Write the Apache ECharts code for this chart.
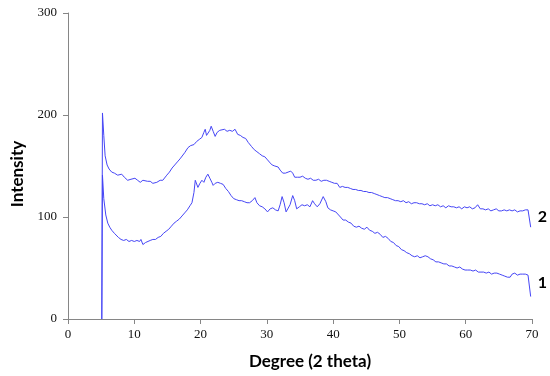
<!DOCTYPE html>
<html>
<head>
<meta charset="utf-8">
<script src="https://cdn.jsdelivr.net/npm/echarts@6/dist/echarts.min.js"></script>
<style>html,body{margin:0;padding:0;background:#fff}#c{width:550px;height:376px}</style>
</head>
<body>
<div id="c"></div>
<script>
var xTicks = [0, 10, 20, 30, 40, 50, 60, 70];
var yTicks = [0, 100, 200, 300];
var seriesNames = ['1', '2'];

var curve1 = [[5.1,0],[5.2,141],[5.4,118],[5.7,102],[6.0,94],[6.3,90],[6.6,87],[7.0,84],[7.3,85],[7.6,80],[8.0,78],[8.4,77],[8.8,78],[9.2,76],[9.6,77],[10.0,76],[10.4,77],[10.8,76],[11.0,78],[11.3,73],[11.7,75],[12.0,76],[12.4,77],[12.8,78],[13.2,78],[13.6,80],[14.0,81],[14.4,84],[14.8,86],[15.2,88],[15.6,91],[16.0,94],[16.4,96],[16.8,98],[17.2,101],[17.6,104],[18.0,107],[18.4,111],[18.7,114],[19.0,124],[19.2,136],[19.4,137],[19.6,129],[19.9,133],[20.2,136],[20.5,134],[20.8,139],[21.1,142],[21.4,138],[21.7,134],[21.9,131],[22.2,133],[22.6,134],[23.0,133],[23.4,132],[23.8,128],[24.2,125],[24.6,121],[25.0,118],[25.4,117],[25.8,116],[26.2,116],[26.6,115],[27.0,114],[27.4,114],[27.8,116],[28.2,119],[28.5,114],[28.9,111],[29.3,110],[29.7,108],[30.1,105],[30.5,108],[30.9,109],[31.3,107],[31.7,106],[32.0,112],[32.3,120],[32.6,114],[32.9,105],[33.2,106],[33.5,112],[33.9,121],[34.2,116],[34.5,108],[34.9,110],[35.3,112],[35.7,111],[36.1,112],[36.5,110],[36.9,116],[37.2,113],[37.6,110],[38.0,113],[38.5,120],[38.9,115],[39.2,109],[39.6,107],[40.0,106],[40.4,105],[40.7,104],[41.1,100],[41.5,97],[41.9,97],[42.3,95],[42.7,94],[43.1,91],[43.5,90],[43.9,91],[44.3,89],[44.7,88],[45.1,90],[45.5,87],[45.9,86],[46.3,84],[46.7,85],[47.1,83],[47.5,80],[47.9,81],[48.3,79],[48.7,76],[49.1,75],[49.5,72],[49.9,71],[50.3,68],[50.7,67],[51.1,65],[51.5,64],[51.9,62],[52.3,61],[52.7,62],[53.1,60],[53.5,61],[53.9,62],[54.3,61],[54.7,59],[55.1,58],[55.5,56],[55.9,56],[56.3,55],[56.7,54],[57.1,54],[57.5,52],[57.9,52],[58.3,51],[58.7,50],[59.1,51],[59.5,49],[59.9,48],[60.3,48],[60.7,48],[61.1,47],[61.5,48],[61.9,46],[62.3,46],[62.7,46],[63.1,45],[63.5,46],[63.9,44],[64.3,45],[64.7,45],[65.1,44],[65.5,43],[65.9,42],[66.3,41],[66.7,41],[67.0,44],[67.4,45],[67.8,43],[68.2,44],[68.6,44],[69.0,44],[69.4,43],[69.7,44],[69.8,22]];

var curve2 = [[5.1,0],[5.2,202],[5.4,180],[5.6,160],[5.9,151],[6.2,147],[6.6,144],[7.0,143],[7.5,141],[8.1,142],[8.5,139],[9.0,136],[9.5,137],[10.1,138],[10.5,136],[10.9,134],[11.3,136],[11.6,136],[12.0,135],[12.4,135],[12.8,133],[13.0,132],[13.4,134],[13.9,136],[14.3,136],[14.6,137],[14.9,141],[15.3,144],[15.7,148],[16.1,151],[16.5,154],[16.9,157],[17.2,158],[17.6,163],[18.1,168],[18.5,170],[19.0,171],[19.4,174],[19.8,176],[20.2,178],[20.5,183],[20.7,186],[20.9,180],[21.1,181],[21.4,185],[21.6,189],[21.9,184],[22.2,179],[22.5,183],[22.9,185],[23.2,184],[23.6,186],[24.0,184],[24.4,185],[24.8,184],[25.2,186],[25.6,181],[26.0,180],[26.4,178],[26.8,177],[27.2,173],[27.7,169],[28.1,166],[28.5,164],[28.9,162],[29.3,160],[29.7,159],[30.1,156],[30.5,153],[30.8,151],[31.2,150],[31.7,149],[32.0,146],[32.4,143],[32.8,143],[33.2,144],[33.6,145],[33.9,143],[34.2,139],[34.6,139],[35.0,139],[35.4,140],[35.8,138],[36.2,137],[36.6,138],[37.0,136],[37.4,136],[37.8,137],[38.2,135],[38.6,136],[39.0,136],[39.4,135],[39.8,134],[40.2,133],[40.6,133],[41.0,129],[41.4,130],[41.8,129],[42.2,129],[42.6,128],[43.0,127],[43.4,127],[43.8,126],[44.2,126],[44.6,125],[45.0,125],[45.4,124],[45.8,124],[46.2,123],[46.6,122],[47.0,121],[47.4,120],[47.8,119],[48.2,119],[48.6,118],[49.0,117],[49.4,116],[49.8,116],[50.2,115],[50.6,116],[51.0,114],[51.4,115],[51.8,113],[52.2,114],[52.6,114],[53.0,113],[53.4,113],[53.8,112],[54.2,113],[54.6,111],[55.0,112],[55.4,111],[55.8,112],[56.2,110],[56.6,111],[57.0,109],[57.4,111],[57.8,110],[58.2,110],[58.6,109],[59.0,110],[59.4,108],[59.8,110],[60.2,109],[60.6,110],[61.0,108],[61.4,109],[61.8,112],[62.2,108],[62.6,108],[63.0,107],[63.4,108],[63.8,106],[64.2,107],[64.6,108],[65.0,106],[65.4,106],[65.8,107],[66.2,106],[66.6,107],[67.0,106],[67.4,107],[67.8,105],[68.2,106],[68.6,106],[69.0,107],[69.4,107],[69.7,108],[69.8,90]];

var lineColor = '#4646f5';
var axisGray = '#868686';
var serif = 'Liberation Serif';
var sans = 'Lato';

function mkSeries(name, data, dy) {
  return {
    name: name,
    type: 'line',
    data: data,
    showSymbol: false,
    symbol: 'none',
    lineStyle: { color: lineColor, width: 1 },
    itemStyle: { color: lineColor },
    endLabel: {
      show: true,
      formatter: name,
      color: '#000',
      fontFamily: sans,
      fontWeight: 'bold',
      fontSize: 16,
      distance: 7,
      offset: [0, dy]
    },
    silent: true
  };
}

var chart = echarts.init(document.getElementById('c'), null, { renderer: 'canvas' });
chart.setOption({
  animation: false,
  backgroundColor: '#fff',
  grid: { left: 68, right: 18, top: 13, bottom: 57, containLabel: false },
  xAxis: {
    type: 'value', min: xTicks[0], max: xTicks[xTicks.length - 1], interval: 10,
    name: 'Degree (2 theta)', nameLocation: 'middle', nameGap: 34,
    nameTextStyle: { fontFamily: sans, fontWeight: 'bold', fontSize: 17, color: '#000', padding: [0, 0, 0, 20] },
    axisLine: { show: true, lineStyle: { color: axisGray, width: 1 } },
    axisTick: { show: true, inside: false, length: 5, lineStyle: { color: axisGray } },
    axisLabel: { fontFamily: serif, fontSize: 13, color: '#111', margin: 9 },
    splitLine: { show: false }
  },
  yAxis: {
    type: 'value', min: yTicks[0], max: yTicks[yTicks.length - 1], interval: 100,
    name: 'Intensity', nameLocation: 'middle', nameGap: 42, nameRotate: 90,
    nameTextStyle: { fontFamily: sans, fontWeight: 'bold', fontSize: 17, color: '#000', padding: [0, 16, 0, 0] },
    axisLine: { show: true, lineStyle: { color: axisGray, width: 1 } },
    axisTick: { show: true, inside: false, length: 5, lineStyle: { color: axisGray } },
    axisLabel: { fontFamily: serif, fontSize: 13, color: '#111', margin: 11 },
    splitLine: { show: false }
  },
  series: [
    mkSeries(seriesNames[0], curve1, -14),
    mkSeries(seriesNames[1], curve2, -10)
  ]
});
</script>
</body>
</html>
